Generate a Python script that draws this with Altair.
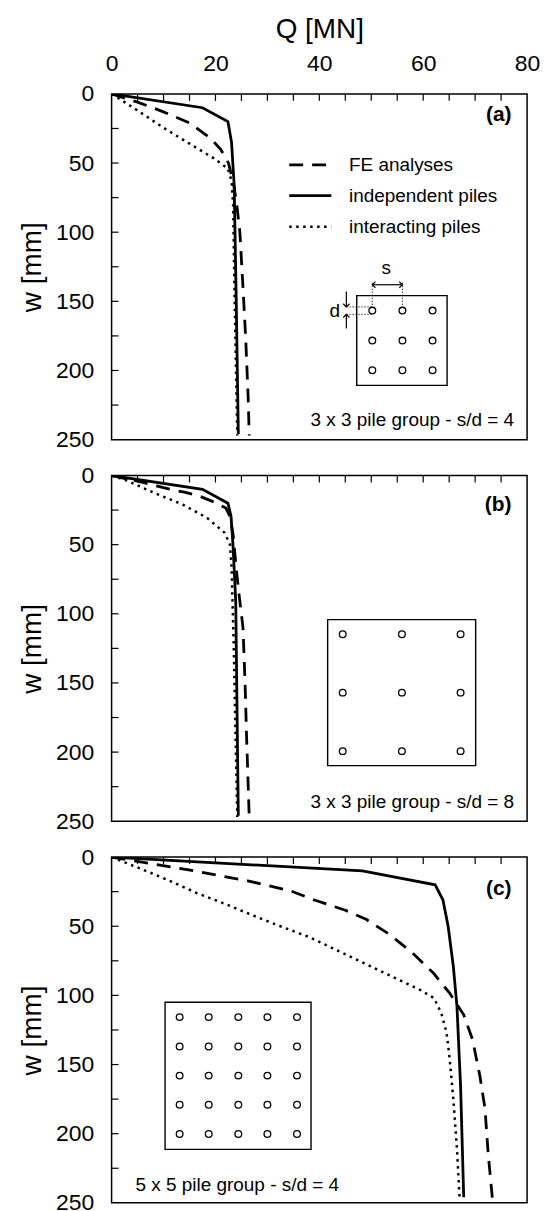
import altair as alt
import pandas as pd

# ---------------- data ----------------
# Panel (a): 3 x 3 pile group, s/d = 4
A_FE_Q = [0, 5, 10, 15, 19, 21, 22.5, 23.5, 24.1, 24.7, 25.3, 25.8, 26.3, 26.5]
A_FE_W = [0, 6, 13, 21, 32, 40, 50, 65, 80, 100, 140, 175, 220, 247]
A_IND_Q = [0, 17.5, 22.4, 23.1, 23.6, 24.0, 24.4]
A_IND_W = [0, 10, 20, 35, 66, 150, 246]
A_INT_Q = [0, 5, 10, 15, 19.7, 22.4, 23.1, 23.4, 23.7, 24.2]
A_INT_W = [0, 12, 24.5, 36, 46.6, 54, 63, 80, 150, 247]

# Panel (b): 3 x 3 pile group, s/d = 8
B_FE_Q = [0, 6, 11.6, 14, 17, 19.4, 22, 22.8, 23.4, 24.1, 24.6, 25.3, 25.7, 26.0, 26.5]
B_FE_W = [0, 5, 10.3, 12, 15, 18.7, 23.5, 29.5, 43, 71, 88, 110, 150, 190, 247]
B_IND_Q = [0, 17.5, 22.4, 23.0, 23.4, 23.9, 24.4]
B_IND_W = [0, 10, 20, 29.5, 52, 91, 246]
B_INT_Q = [0, 2.9, 8.3, 13.7, 18.4, 21.8, 22.8, 23.1, 23.5, 24.2]
B_INT_W = [0, 3.6, 12.7, 21, 30.7, 41.5, 50, 66.7, 120, 247]

# Panel (c): 5 x 5 pile group, s/d = 4
C_FE_Q = [0, 16, 26.4, 34.5, 39.2, 45, 49, 53.7, 58, 62, 65.1, 67.8, 69.5, 70.9, 71.9, 72.5, 73.4]
C_FE_W = [0, 10, 17.3, 24.5, 31.2, 38.4, 45, 56.4, 69.6, 84, 98.4, 114, 132, 158, 182, 214, 250]
C_IND_Q = [0, 48.3, 62.3, 63.8, 64.8, 65.8, 66.5, 67.2, 67.8]
C_IND_W = [0, 10, 20, 31, 50, 79, 108, 166, 246]
C_INT_Q = [0, 5.6, 11, 16.4, 21.7, 27.1, 32.5, 37.9, 43.3, 48.7, 54, 59.4, 62.1, 63.5, 64.5, 65.1, 65.8, 66.5, 67]
C_INT_W = [0, 8.4, 16.8, 26, 33.6, 42, 50, 57.6, 67.2, 76.8, 86.4, 96, 102, 113, 127, 146, 175, 211, 246]

X_TICK_LABELS = [0, 20, 40, 60, 80]
Y_TICK_LABELS = [0, 50, 100, 150, 200, 250]
X_MINOR = list(range(5, 80, 5))
Y_MINOR = list(range(25, 250, 25))

LEGEND_NAMES = ["FE analyses", "independent piles", "interacting piles"]
LEGEND_W = [51.4, 73.6, 96]

PANEL_TAGS = ["(a)", "(b)", "(c)"]
PANEL_TAG_W = [15.4, 21, 22.8]
GROUP_TEXT = ["3 x 3 pile group - s/d = 4", "3 x 3 pile group - s/d = 8", "5 x 5 pile group - s/d = 4"]

# inset schematics (Q, w coordinates)
A_BOX = [47.2, 64.6, 145.9, 210.8]
A_PILE_Q = [50.2, 56.0, 61.8]
A_PILE_W = [156.7, 178.4, 199.8]
B_BOX = [41.6, 70.1, 104.2, 209.8]
B_PILE_Q = [44.5, 55.9, 67.2]
B_PILE_W = [114.8, 157, 199.3]
C_BOX = [10.3, 38.4, 104.9, 211.3]
C_PILE_Q = [13.1, 18.7, 24.4, 30.0, 35.7]
C_PILE_W = [115.7, 136.9, 158.0, 179.1, 200.2]

FONT = "Liberation Sans"
W, H = 417, 347

XS = alt.Scale(domain=[0, 80], nice=False)
YS = alt.Scale(domain=[0, 250], reverse=True, nice=False)

X_TOP_AXIS = alt.Axis(orient="top", values=X_TICK_LABELS, title="Q [MN]", labelFontSize=23,
                      titleFontSize=28, titleFontWeight="normal", labelPadding=18, titlePadding=10,
                      ticks=False, tickSize=0, domain=False, grid=False, labelFlush=False,
                      labelColor="black", titleColor="black")
Y_AXIS = alt.Axis(values=Y_TICK_LABELS, title="w [mm]", labelFontSize=23, titleFontSize=28,
                  titleFontWeight="normal", labelPadding=18, titlePadding=9, ticks=False,
                  tickSize=0, domain=False, grid=False, labelColor="black", titleColor="black")

SOLID = dict(strokeWidth=2.8)
DASH = dict(strokeWidth=2.8, strokeDash=[14, 9])
DOT = dict(strokeWidth=2.5, strokeDash=[2.5, 4.5])


def make_panel(idx, series, box, pq, pw):
    x_axis = X_TOP_AXIS if idx == 0 else None
    X = lambda f="Q": alt.X(f"{f}:Q", scale=XS, axis=x_axis)
    Y = lambda f="w": alt.Y(f"{f}:Q", scale=YS, axis=Y_AXIS)
    layers = []

    # inward ticks
    layers.append(alt.Chart(pd.DataFrame({"w": Y_MINOR})).mark_rule(color="black", strokeWidth=1.2)
                  .encode(y=Y(), x=alt.value(0), x2=alt.value(7)))
    layers.append(alt.Chart(pd.DataFrame({"Q": X_MINOR})).mark_rule(color="black", strokeWidth=1.2)
                  .encode(x=X(), y=alt.value(0), y2=alt.value(7)))

    # curves
    for (q, w), style in zip(series, [DASH, SOLID, DOT]):
        df = pd.DataFrame({"Q": q, "w": w, "i": list(range(len(q)))})
        layers.append(alt.Chart(df).mark_line(color="black", clip=True, **style)
                      .encode(x=X(), y=Y(), order="i:Q"))

    # inset box and piles
    bdf = pd.DataFrame({"Q": [box[0]], "Q2": [box[1]], "w": [box[2]], "w2": [box[3]]})
    layers.append(alt.Chart(bdf).mark_rect(fillOpacity=0, stroke="black", strokeWidth=1.4)
                  .encode(x=X(), x2="Q2:Q", y=Y(), y2="w2:Q"))
    piles = pd.DataFrame([{"Q": a, "w": b} for a in pq for b in pw])
    layers.append(alt.Chart(piles).mark_point(shape="circle", size=45, filled=False,
                                             color="black", strokeWidth=1.3, opacity=1)
                  .encode(x=X(), y=Y()))

    # panel tag
    tdf = pd.DataFrame({"Q": [77.0], "w": [PANEL_TAG_W[idx]], "t": [PANEL_TAGS[idx]]})
    layers.append(alt.Chart(tdf).mark_text(align="right", baseline="middle", fontSize=21,
                                          fontWeight="bold", font=FONT, color="black")
                  .encode(x=X(), y=Y(), text="t:N"))
    # group description
    if idx < 2:
        gdf = pd.DataFrame({"Q": [77.5], "w": [236], "t": [GROUP_TEXT[idx]]})
        al = "right"
    else:
        gdf = pd.DataFrame({"Q": [4.6], "w": [237], "t": [GROUP_TEXT[idx]]})
        al = "left"
    layers.append(alt.Chart(gdf).mark_text(align=al, baseline="middle", fontSize=19, font=FONT,
                                          color="black")
                  .encode(x=X(), y=Y(), text="t:N"))

    if idx == 0:
        # legend
        for name, wv, style in zip(LEGEND_NAMES, LEGEND_W, [DASH, SOLID, DOT]):
            ldf = pd.DataFrame({"Q": [34.2], "Q2": [42.3], "w": [wv]})
            layers.append(alt.Chart(ldf).mark_rule(color="black", **style)
                          .encode(x=X(), x2="Q2:Q", y=Y()))
        ltx = pd.DataFrame({"Q": [45.7] * 3, "w": LEGEND_W, "t": LEGEND_NAMES})
        layers.append(alt.Chart(ltx).mark_text(align="left", baseline="middle", fontSize=19,
                                              font=FONT, color="black")
                      .encode(x=X(), y=Y(), text="t:N"))
        # dimension: s
        sdot = pd.DataFrame({"Q": [50.2, 56.0], "w": [136.5, 136.5], "w2": [154.0, 154.0]})
        layers.append(alt.Chart(sdot).mark_rule(color="black", strokeWidth=0.8, strokeDash=[1.5, 1.5])
                      .encode(x=X(), y=Y(), y2="w2:Q"))
        sarr = pd.DataFrame({"Q": [50.2], "Q2": [56.0], "w": [138]})
        layers.append(alt.Chart(sarr).mark_rule(color="black", strokeWidth=1.2)
                      .encode(x=X(), x2="Q2:Q", y=Y()))
        heads = pd.DataFrame({"Q": [50.2, 56.0, 45.2, 45.2], "w": [138, 138, 154.0, 159.4],
                              "s": ["M1,-1L0,0L1,1", "M-1,-1L0,0L-1,1", "M-1,-1L0,0L1,-1", "M-1,1L0,0L1,1"]})
        for _, r in heads.iterrows():
            layers.append(alt.Chart(pd.DataFrame([r])).mark_point(shape=r["s"], size=40, filled=False,
                                                                  color="black", strokeWidth=1.2, opacity=1)
                          .encode(x=X(), y=Y()))
        # dimension: d
        darr = pd.DataFrame({"Q": [45.2, 45.2], "w": [142.8, 159.4], "w2": [154.0, 169.7]})
        layers.append(alt.Chart(darr).mark_rule(color="black", strokeWidth=1.2)
                      .encode(x=X(), y=Y(), y2="w2:Q"))
        ddot = pd.DataFrame({"Q": [45.2, 45.2], "Q2": [50.2, 50.2], "w": [154.0, 159.4]})
        layers.append(alt.Chart(ddot).mark_rule(color="black", strokeWidth=0.8, strokeDash=[1.5, 1.5])
                      .encode(x=X(), x2="Q2:Q", y=Y()))
        lab = pd.DataFrame({"Q": [52.9, 44.0], "w": [126, 157], "t": ["s", "d"], "a": ["center", "right"]})
        layers.append(alt.Chart(lab.iloc[[0]]).mark_text(align="center", baseline="middle", fontSize=19,
                                                        font=FONT, color="black")
                      .encode(x=X(), y=Y(), text="t:N"))
        layers.append(alt.Chart(lab.iloc[[1]]).mark_text(align="right", baseline="middle", fontSize=19,
                                                        font=FONT, color="black")
                      .encode(x=X(), y=Y(), text="t:N"))

    return alt.layer(*layers).properties(width=W, height=H)


pa = make_panel(0, [(A_FE_Q, A_FE_W), (A_IND_Q, A_IND_W), (A_INT_Q, A_INT_W)], A_BOX, A_PILE_Q, A_PILE_W)
pb = make_panel(1, [(B_FE_Q, B_FE_W), (B_IND_Q, B_IND_W), (B_INT_Q, B_INT_W)], B_BOX, B_PILE_Q, B_PILE_W)
pc = make_panel(2, [(C_FE_Q, C_FE_W), (C_IND_Q, C_IND_W), (C_INT_Q, C_INT_W)], C_BOX, C_PILE_Q, C_PILE_W)

chart = (alt.vconcat(pa, pb, pc, spacing=11)
         .properties(padding={"left": 17, "top": 12, "right": 8, "bottom": 8}, background="white")
         .configure(font=FONT)
         .configure_view(stroke="black", strokeWidth=1.5)
         .configure_axis(labelFont=FONT, titleFont=FONT))

chart.save("out.html", embed_options={"renderer": "svg", "actions": False})
